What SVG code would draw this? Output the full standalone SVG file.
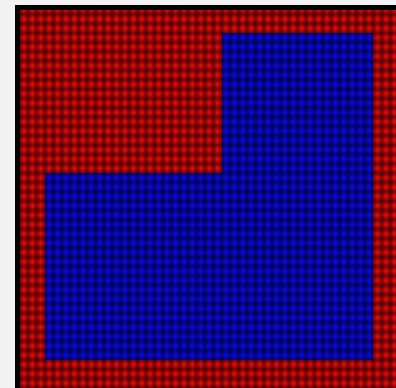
<svg xmlns="http://www.w3.org/2000/svg" width="396" height="388" viewBox="0 0 396 388">
  <defs>
    <linearGradient id="gx" x1="0" y1="0" x2="1" y2="0">
      <stop offset="0" stop-color="#000" stop-opacity="0.5"/>
      <stop offset="0.5" stop-color="#000" stop-opacity="0"/>
      <stop offset="1" stop-color="#000" stop-opacity="0.5"/>
    </linearGradient>
    <linearGradient id="gy" x1="0" y1="0" x2="0" y2="1">
      <stop offset="0" stop-color="#000" stop-opacity="0.5"/>
      <stop offset="0.5" stop-color="#000" stop-opacity="0"/>
      <stop offset="1" stop-color="#000" stop-opacity="0.5"/>
    </linearGradient>
    <pattern id="px" patternUnits="userSpaceOnUse" x="45" y="0" width="8.42" height="20">
      <rect width="8.42" height="20" fill="url(#gx)"/>
    </pattern>
    <pattern id="py" patternUnits="userSpaceOnUse" x="0" y="33" width="20" height="9.34">
      <rect width="20" height="9.34" fill="url(#gy)"/>
    </pattern>
  </defs>
  <rect width="396" height="388" fill="#f2f2f2"/>
  <rect x="15" y="5" width="381" height="383" fill="#000"/>
  <rect x="20" y="10" width="376" height="378" fill="#ff0a0a"/>
  <path d="M45 173 H222 V33 H373 V360 H45 Z" fill="#0a0aff"/>
  <rect x="20" y="10" width="376" height="378" fill="url(#px)"/>
  <rect x="20" y="10" width="376" height="378" fill="url(#py)"/>
</svg>
